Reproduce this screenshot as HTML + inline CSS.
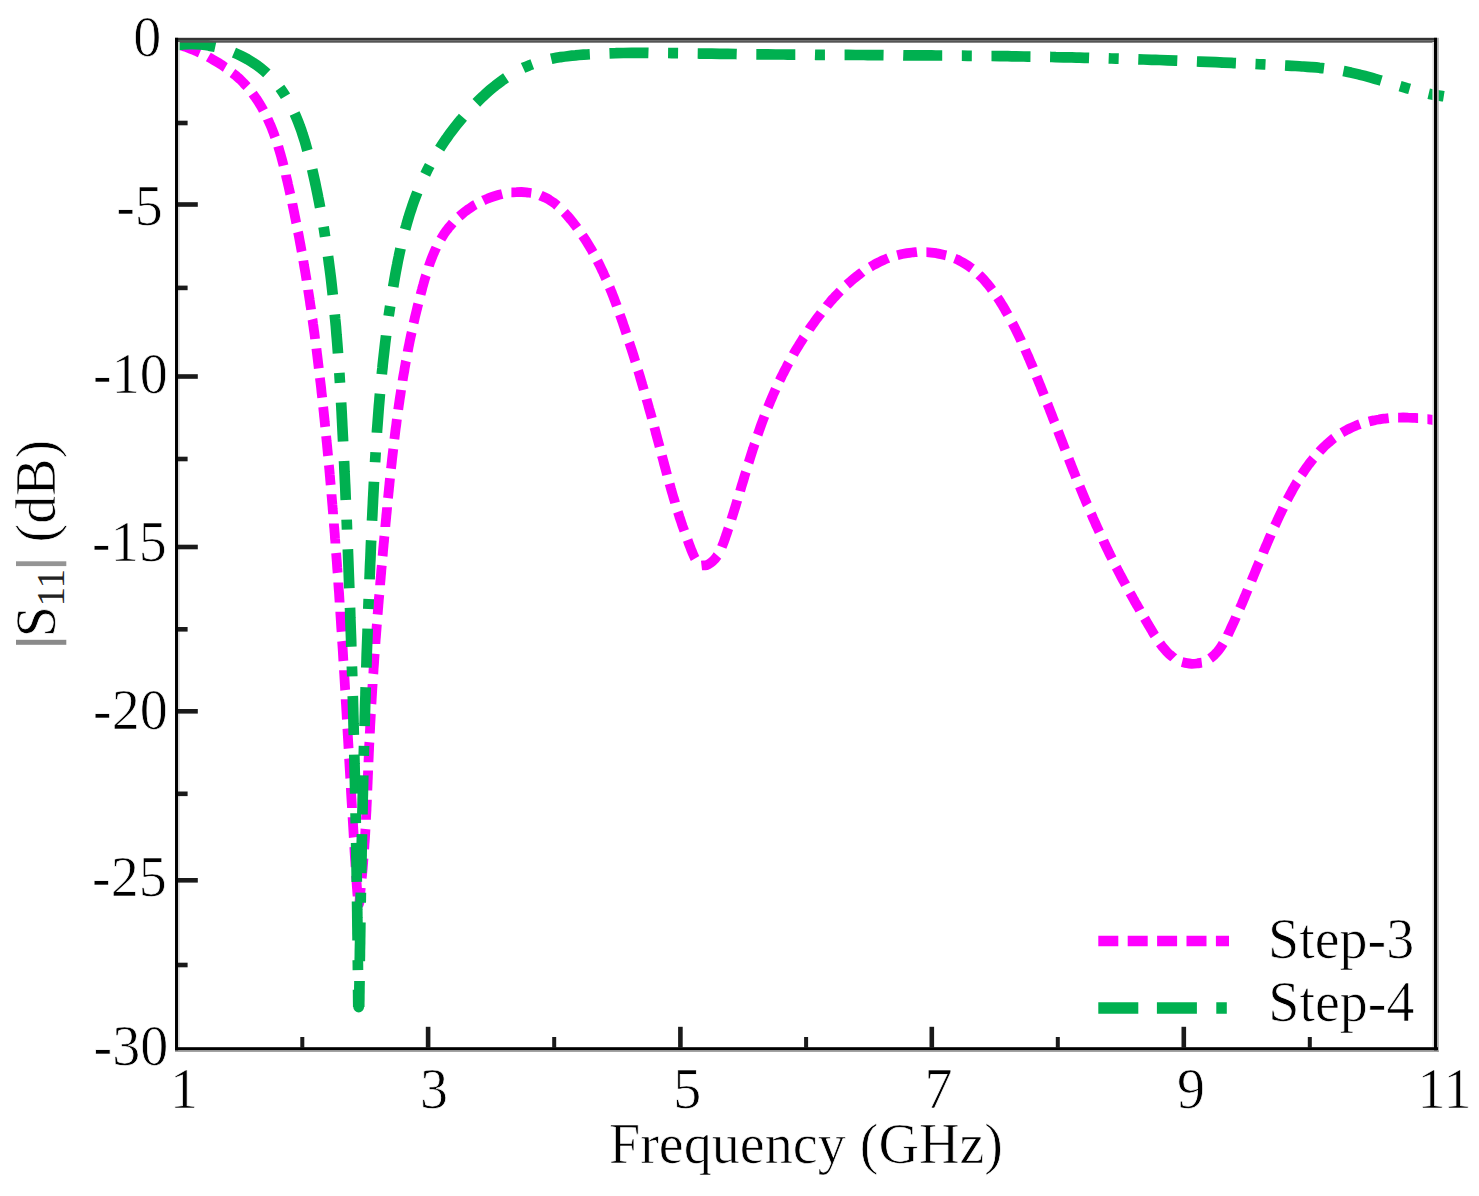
<!DOCTYPE html>
<html><head><meta charset="utf-8"><title>S11</title>
<style>html,body{margin:0;padding:0;background:#fff}svg{display:block}</style></head>
<body>
<svg width="1479" height="1196" viewBox="0 0 1479 1196">
<rect width="1479" height="1196" fill="#fff"/>
<path d="M181.3,45.3C182.1,45.6 184.5,46.4 186.0,47.0C187.6,47.6 189.1,48.2 190.7,48.8C192.2,49.5 193.8,50.1 195.3,50.8C196.8,51.4 199.1,52.5 199.8,52.8 M208.3,57.0C209.0,57.4 211.2,58.6 212.6,59.4C214.1,60.3 215.5,61.1 217.0,62.0C218.4,62.8 219.8,63.7 221.2,64.6C222.6,65.6 224.6,67.0 225.3,67.4 M232.5,72.9C233.2,73.4 235.1,75.0 236.4,76.1C237.6,77.2 238.9,78.3 240.1,79.4C241.3,80.6 242.5,81.8 243.6,83.0C244.8,84.2 246.4,86.0 247.0,86.6 M252.7,93.6C253.2,94.3 254.7,96.3 255.6,97.7C256.6,99.0 257.5,100.4 258.4,101.8C259.3,103.2 260.1,104.7 261.0,106.1C261.8,107.5 263.0,109.7 263.4,110.5 M267.6,118.7C267.9,119.5 269.0,121.7 269.6,123.3C270.3,124.8 271.0,126.3 271.6,127.9C272.2,129.4 272.8,131.0 273.4,132.5C274.0,134.1 274.8,136.4 275.1,137.2 M278.2,146.3C278.4,147.1 279.1,149.5 279.6,151.1C280.1,152.7 280.5,154.3 281.0,155.9C281.4,157.5 281.9,159.1 282.3,160.7C282.7,162.3 283.4,164.8 283.6,165.6 M285.9,174.8C286.0,175.6 286.6,178.1 287.0,179.7C287.4,181.3 287.8,183.0 288.1,184.6C288.5,186.2 288.9,187.8 289.2,189.5C289.6,191.1 290.1,193.5 290.3,194.3 M292.3,203.4C292.4,204.2 293.0,206.7 293.3,208.3C293.6,209.9 294.0,211.6 294.3,213.2C294.6,214.8 295.0,216.5 295.3,218.1C295.6,219.7 296.1,222.2 296.3,223.0 M298.0,232.0C298.2,232.8 298.7,235.2 299.0,236.9C299.3,238.5 299.6,240.2 299.9,241.8C300.2,243.4 300.5,245.1 300.8,246.7C301.1,248.4 301.5,250.8 301.7,251.6 M303.3,260.7C303.4,261.5 303.9,264.0 304.1,265.7C304.4,267.3 304.7,268.9 305.0,270.6C305.3,272.2 305.5,273.9 305.8,275.5C306.1,277.2 306.5,279.6 306.6,280.4 M308.1,289.8C308.2,290.7 308.6,293.1 308.9,294.8C309.1,296.4 309.4,298.1 309.6,299.7C309.9,301.4 310.1,303.0 310.3,304.7C310.6,306.3 311.0,308.8 311.1,309.6 M312.4,319.2C312.6,320.0 312.9,322.5 313.1,324.1C313.4,325.8 313.6,327.4 313.8,329.1C314.0,330.7 314.3,332.4 314.5,334.0C314.7,335.7 315.0,338.1 315.1,339.0 M316.4,348.5C316.5,349.3 316.8,351.8 317.0,353.5C317.2,355.1 317.4,356.8 317.6,358.4C317.8,360.1 318.0,361.7 318.2,363.4C318.4,365.0 318.7,367.5 318.8,368.3 M319.9,377.8C320.0,378.6 320.3,381.1 320.5,382.7C320.7,384.4 320.9,386.1 321.1,387.7C321.3,389.4 321.4,391.0 321.6,392.7C321.8,394.3 322.1,396.8 322.2,397.6 M323.2,406.9C323.3,407.7 323.5,410.2 323.7,411.9C323.9,413.5 324.0,415.2 324.2,416.9C324.4,418.5 324.6,420.2 324.7,421.8C324.9,423.5 325.1,426.0 325.2,426.8 M326.1,436.0C326.2,436.8 326.5,439.3 326.6,441.0C326.8,442.6 327.0,444.3 327.1,445.9C327.3,447.6 327.4,449.3 327.6,450.9C327.7,452.6 328.0,455.1 328.1,455.9 M328.9,465.1C329.0,465.9 329.2,468.4 329.4,470.1C329.5,471.7 329.7,473.4 329.8,475.1C330.0,476.7 330.1,478.4 330.2,480.0C330.4,481.7 330.6,484.2 330.7,485.0 M331.5,494.2C331.5,495.1 331.8,497.6 331.9,499.2C332.0,500.9 332.2,502.5 332.3,504.2C332.5,505.9 332.6,507.5 332.7,509.2C332.9,510.9 333.1,513.3 333.1,514.2 M333.9,523.5C333.9,524.3 334.1,526.8 334.3,528.5C334.4,530.2 334.5,531.8 334.7,533.5C334.8,535.1 334.9,536.8 335.0,538.5C335.2,540.1 335.4,542.6 335.4,543.4 M336.1,553.0C336.2,553.8 336.4,556.3 336.5,558.0C336.6,559.6 336.8,561.3 336.9,562.9C337.0,564.6 337.1,566.3 337.2,567.9C337.4,569.6 337.5,572.1 337.6,572.9 M338.3,582.5C338.3,583.3 338.5,585.8 338.6,587.5C338.7,589.1 338.8,590.8 339.0,592.4C339.1,594.1 339.2,595.8 339.3,597.4C339.4,599.1 339.6,601.6 339.6,602.4 M340.3,611.8C340.3,612.6 340.5,615.1 340.6,616.8C340.7,618.5 340.8,620.1 340.9,621.8C341.0,623.4 341.1,625.1 341.2,626.8C341.3,628.4 341.5,630.9 341.6,631.8 M342.1,641.1C342.2,641.9 342.4,644.4 342.5,646.1C342.6,647.7 342.7,649.4 342.8,651.0C342.9,652.7 343.0,654.4 343.1,656.0C343.2,657.7 343.3,660.2 343.4,661.0 M344.0,670.3C344.0,671.1 344.2,673.6 344.3,675.2C344.4,676.9 344.5,678.6 344.6,680.2C344.7,681.9 344.8,683.6 344.9,685.2C345.0,686.9 345.1,689.4 345.2,690.2 M345.7,699.3C345.7,700.1 345.9,702.6 346.0,704.3C346.1,705.9 346.2,707.6 346.3,709.3C346.4,710.9 346.5,712.6 346.6,714.3C346.7,715.9 346.8,718.4 346.9,719.3 M347.4,728.5C347.5,729.3 347.6,731.8 347.7,733.5C347.8,735.2 347.9,736.8 348.0,738.5C348.1,740.2 348.2,741.8 348.3,743.5C348.4,745.1 348.5,747.6 348.6,748.5 M349.1,758.3C349.2,759.1 349.3,761.6 349.4,763.3C349.5,764.9 349.6,766.6 349.7,768.3C349.8,769.9 349.9,771.6 350.0,773.2C350.1,774.9 350.2,777.4 350.3,778.2 M350.9,788.0C350.9,788.9 351.0,791.4 351.1,793.0C351.2,794.7 351.3,796.4 351.4,798.0C351.5,799.7 351.6,801.4 351.7,803.0C351.8,804.7 352.0,807.2 352.0,808.0 M352.6,817.3C352.6,818.2 352.8,820.7 352.9,822.3C353.0,824.0 353.1,825.7 353.2,827.3C353.3,829.0 353.4,830.7 353.5,832.3C353.6,834.0 353.7,836.5 353.8,837.3 M354.3,846.7C354.4,847.5 354.5,850.0 354.6,851.6C354.7,853.3 354.8,855.0 354.9,856.6C355.0,858.3 355.1,860.0 355.3,861.6C355.4,863.3 355.5,865.8 355.6,866.6 M356.2,876.0C356.2,876.8 356.4,879.3 356.5,881.0C356.6,882.6 356.7,884.3 356.8,885.9C356.9,887.6 357.1,889.3 357.2,890.9C357.3,892.6 357.5,895.1 357.6,895.9 M358.4,905.2C358.6,904.8 359.1,903.8 359.4,902.5C359.6,901.2 359.7,899.2 359.8,897.5C360.0,895.9 360.2,894.2 360.3,892.5C360.5,890.9 360.7,888.4 360.8,887.6 M361.7,878.2C361.8,877.4 362.1,874.9 362.2,873.3C362.4,871.6 362.5,869.9 362.7,868.3C362.8,866.6 363.0,865.0 363.1,863.3C363.2,861.6 363.4,859.2 363.5,858.3 M364.2,849.0C364.3,848.2 364.4,845.7 364.5,844.0C364.7,842.3 364.8,840.7 364.9,839.0C365.0,837.3 365.1,835.7 365.2,834.0C365.3,832.4 365.4,829.9 365.5,829.0 M366.0,819.7C366.0,818.8 366.1,816.3 366.2,814.7C366.3,813.0 366.4,811.3 366.5,809.7C366.5,808.0 366.6,806.3 366.7,804.7C366.8,803.0 366.9,800.5 366.9,799.7 M367.3,790.6C367.3,789.8 367.5,787.3 367.5,785.6C367.6,784.0 367.7,782.3 367.7,780.6C367.8,779.0 367.9,777.3 367.9,775.6C368.0,774.0 368.1,771.5 368.1,770.6 M368.5,762.2C368.5,761.4 368.6,758.9 368.7,757.2C368.8,755.6 368.8,753.9 368.9,752.2C369.0,750.6 369.1,748.9 369.1,747.2C369.2,745.6 369.3,743.1 369.4,742.2 M369.8,733.6C369.8,732.8 370.0,730.3 370.1,728.6C370.1,726.9 370.2,725.3 370.3,723.6C370.4,721.9 370.5,720.3 370.6,718.6C370.7,716.9 370.8,714.5 370.9,713.6 M371.4,703.9C371.5,703.0 371.6,700.5 371.7,698.9C371.8,697.2 371.9,695.6 372.0,693.9C372.1,692.2 372.2,690.6 372.3,688.9C372.4,687.2 372.6,684.7 372.6,683.9 M373.3,673.8C373.4,673.0 373.5,670.5 373.6,668.8C373.7,667.1 373.9,665.5 374.0,663.8C374.1,662.1 374.2,660.5 374.3,658.8C374.4,657.2 374.6,654.7 374.7,653.8 M375.4,644.0C375.4,643.2 375.6,640.7 375.7,639.0C375.9,637.4 376.0,635.7 376.1,634.1C376.2,632.4 376.4,630.7 376.5,629.1C376.6,627.4 376.8,624.9 376.9,624.1 M377.6,614.5C377.7,613.7 377.9,611.2 378.0,609.6C378.2,607.9 378.3,606.2 378.4,604.6C378.6,602.9 378.7,601.2 378.8,599.6C379.0,597.9 379.2,595.4 379.3,594.6 M380.1,585.2C380.1,584.4 380.3,581.9 380.5,580.2C380.6,578.6 380.8,576.9 380.9,575.3C381.1,573.6 381.2,571.9 381.3,570.3C381.5,568.6 381.7,566.1 381.8,565.3 M382.6,556.1C382.7,555.3 382.9,552.8 383.0,551.1C383.2,549.5 383.3,547.8 383.5,546.1C383.6,544.5 383.8,542.8 384.0,541.2C384.1,539.5 384.3,537.0 384.4,536.2 M385.3,527.1C385.3,526.3 385.6,523.8 385.7,522.2C385.9,520.5 386.0,518.9 386.2,517.2C386.3,515.5 386.5,513.9 386.7,512.2C386.8,510.6 387.1,508.1 387.1,507.2 M388.0,498.1C388.1,497.3 388.4,494.8 388.5,493.2C388.7,491.5 388.9,489.8 389.0,488.2C389.2,486.5 389.4,484.9 389.5,483.2C389.7,481.6 389.9,479.1 390.0,478.2 M391.0,468.7C391.1,467.9 391.4,465.4 391.6,463.7C391.8,462.1 391.9,460.4 392.1,458.8C392.3,457.1 392.5,455.5 392.7,453.8C392.9,452.2 393.2,449.7 393.3,448.8 M394.4,439.1C394.5,438.3 394.8,435.8 395.0,434.1C395.2,432.5 395.4,430.8 395.6,429.2C395.8,427.5 396.1,425.9 396.3,424.2C396.5,422.5 396.8,420.1 396.9,419.2 M398.2,409.7C398.3,408.9 398.7,406.4 398.9,404.7C399.2,403.1 399.4,401.4 399.6,399.8C399.9,398.2 400.1,396.5 400.4,394.9C400.6,393.2 401.0,390.7 401.1,389.9 M402.6,380.7C402.7,379.8 403.1,377.4 403.4,375.7C403.7,374.1 404.0,372.5 404.3,370.8C404.5,369.2 404.8,367.5 405.1,365.9C405.4,364.2 405.8,361.8 406.0,361.0 M407.7,351.8C407.8,351.0 408.3,348.6 408.6,346.9C409.0,345.3 409.3,343.7 409.6,342.0C409.9,340.4 410.3,338.8 410.6,337.1C411.0,335.5 411.5,333.0 411.7,332.2 M413.6,323.1C413.8,322.3 414.4,319.9 414.7,318.3C415.1,316.6 415.5,315.0 415.9,313.4C416.3,311.8 416.7,310.1 417.1,308.5C417.4,306.9 418.1,304.5 418.3,303.7 M420.6,294.6C420.8,293.8 421.4,291.3 421.9,289.7C422.3,288.1 422.7,286.5 423.2,284.9C423.6,283.3 424.1,281.7 424.5,280.1C425.0,278.5 425.7,276.1 426.0,275.3 M428.9,266.1C429.1,265.3 430.0,263.0 430.5,261.4C431.1,259.8 431.7,258.3 432.3,256.7C432.9,255.2 433.6,253.6 434.2,252.1C434.9,250.6 436.0,248.3 436.3,247.6 M440.9,239.1C441.3,238.4 442.6,236.2 443.5,234.8C444.4,233.4 445.4,232.1 446.4,230.7C447.3,229.4 448.4,228.1 449.4,226.8C450.5,225.5 452.2,223.6 452.7,223.0 M459.3,216.5C459.9,216.0 461.8,214.3 463.1,213.2C464.3,212.2 465.7,211.2 467.0,210.2C468.4,209.2 469.7,208.2 471.1,207.3C472.5,206.4 474.6,205.1 475.4,204.7 M483.3,200.5C484.1,200.1 486.4,199.1 487.9,198.5C489.4,197.8 491.0,197.2 492.6,196.7C494.2,196.2 495.8,195.7 497.4,195.2C499.0,194.7 501.4,194.2 502.2,194.0 M511.4,192.4C512.2,192.4 514.7,192.1 516.4,192.1C518.0,192.0 519.7,192.0 521.4,192.0C523.0,192.1 524.7,192.2 526.4,192.3C528.0,192.5 530.5,192.9 531.3,193.0 M540.5,195.5C541.3,195.9 543.6,196.8 545.1,197.5C546.6,198.2 548.1,199.0 549.5,199.9C550.9,200.7 552.3,201.7 553.6,202.7C555.0,203.6 556.9,205.3 557.5,205.8 M564.3,212.4C564.9,213.0 566.6,214.8 567.7,216.1C568.8,217.3 569.9,218.6 570.9,219.9C572.0,221.2 573.0,222.5 574.0,223.8C575.1,225.1 576.6,227.1 577.1,227.8 M582.5,235.5C583.0,236.2 584.4,238.3 585.3,239.7C586.2,241.1 587.1,242.5 587.9,243.9C588.8,245.3 589.7,246.7 590.5,248.2C591.4,249.6 592.6,251.8 593.0,252.5 M597.4,260.7C597.8,261.5 598.9,263.7 599.7,265.2C600.4,266.7 601.1,268.2 601.8,269.7C602.5,271.2 603.3,272.7 603.9,274.2C604.6,275.7 605.6,278.0 606.0,278.8 M609.6,287.3C609.9,288.0 610.8,290.3 611.5,291.9C612.1,293.4 612.7,295.0 613.3,296.5C613.9,298.1 614.5,299.7 615.1,301.2C615.6,302.8 616.5,305.1 616.8,305.9 M619.9,314.6C620.2,315.4 621.0,317.8 621.6,319.4C622.1,320.9 622.7,322.5 623.2,324.1C623.7,325.7 624.3,327.2 624.8,328.8C625.3,330.4 626.1,332.8 626.4,333.6 M629.3,342.5C629.6,343.3 630.3,345.7 630.8,347.2C631.4,348.8 631.9,350.4 632.4,352.0C632.9,353.6 633.4,355.2 633.9,356.8C634.4,358.4 635.1,360.8 635.4,361.6 M638.1,370.6C638.4,371.4 639.1,373.8 639.6,375.4C640.1,377.0 640.5,378.6 641.0,380.2C641.5,381.8 642.0,383.4 642.4,385.0C642.9,386.6 643.6,389.0 643.8,389.8 M646.5,399.1C646.7,399.9 647.4,402.3 647.9,403.9C648.3,405.5 648.8,407.1 649.2,408.7C649.7,410.3 650.1,411.9 650.6,413.5C651.0,415.1 651.7,417.5 651.9,418.3 M654.4,427.4C654.6,428.2 655.3,430.6 655.7,432.2C656.1,433.9 656.6,435.5 657.0,437.1C657.4,438.7 657.9,440.3 658.3,441.9C658.7,443.5 659.4,445.9 659.6,446.7 M661.9,455.6C662.1,456.4 662.8,458.8 663.2,460.4C663.6,462.0 664.1,463.7 664.5,465.3C664.9,466.9 665.4,468.5 665.8,470.1C666.2,471.7 666.9,474.1 667.1,474.9 M669.6,483.7C669.8,484.5 670.5,486.9 670.9,488.5C671.4,490.1 671.8,491.8 672.3,493.4C672.8,495.0 673.2,496.6 673.7,498.1C674.2,499.7 674.9,502.1 675.1,502.9 M677.9,511.9C678.2,512.7 678.9,515.1 679.4,516.7C680.0,518.3 680.5,519.8 681.0,521.4C681.5,523.0 682.1,524.6 682.6,526.2C683.2,527.7 684.0,530.1 684.3,530.9 M687.6,540.0C687.9,540.8 688.7,543.1 689.3,544.7C689.9,546.3 690.5,547.8 691.1,549.4C691.7,550.9 692.3,552.5 693.0,554.0C693.7,555.5 694.7,557.8 695.1,558.5 M701.5,565.5C702.4,565.4 704.9,565.6 706.4,565.2C708.0,564.7 709.5,563.7 710.8,562.8C712.2,561.8 713.4,560.7 714.5,559.4C715.6,558.2 717.0,556.1 717.5,555.5 M721.8,547.1C722.1,546.3 723.0,544.0 723.6,542.5C724.2,540.9 724.7,539.3 725.3,537.7C725.8,536.2 726.3,534.6 726.9,533.0C727.4,531.4 728.2,529.1 728.5,528.3 M731.4,519.3C731.6,518.5 732.4,516.2 732.9,514.6C733.4,513.0 733.9,511.4 734.4,509.8C734.9,508.2 735.4,506.6 735.9,505.0C736.3,503.4 737.1,501.0 737.3,500.2 M740.1,491.1C740.3,490.3 741.1,487.9 741.5,486.3C742.0,484.7 742.5,483.1 743.0,481.5C743.5,479.9 743.9,478.3 744.4,476.7C744.9,475.1 745.6,472.7 745.9,471.9 M748.6,462.8C748.9,462.0 749.6,459.6 750.1,458.0C750.6,456.5 751.1,454.9 751.6,453.3C752.1,451.7 752.6,450.1 753.1,448.5C753.7,446.9 754.4,444.6 754.7,443.8 M757.7,434.8C758.0,434.0 758.8,431.7 759.3,430.1C759.9,428.5 760.4,426.9 761.0,425.4C761.6,423.8 762.1,422.2 762.7,420.7C763.3,419.1 764.2,416.8 764.5,416.0 M767.9,407.3C768.2,406.6 769.1,404.3 769.8,402.7C770.4,401.2 771.1,399.6 771.7,398.1C772.4,396.6 773.0,395.0 773.7,393.5C774.4,392.0 775.4,389.7 775.7,389.0 M779.6,380.6C780.0,379.8 781.1,377.6 781.8,376.1C782.6,374.6 783.3,373.1 784.1,371.6C784.8,370.1 785.6,368.7 786.4,367.2C787.1,365.7 788.3,363.5 788.7,362.8 M793.4,354.5C793.8,353.7 795.0,351.6 795.9,350.1C796.7,348.7 797.6,347.3 798.5,345.9C799.3,344.4 800.2,343.0 801.1,341.6C802.0,340.2 803.3,338.1 803.8,337.4 M809.2,329.4C809.6,328.7 811.1,326.6 812.0,325.3C813.0,323.9 814.0,322.5 814.9,321.2C815.9,319.9 816.9,318.5 817.9,317.2C818.9,315.9 820.5,313.9 821.0,313.2 M826.8,306.0C827.3,305.3 828.9,303.4 830.0,302.2C831.1,300.9 832.2,299.6 833.3,298.4C834.5,297.2 835.6,295.9 836.7,294.7C837.9,293.5 839.6,291.7 840.2,291.1 M846.8,284.7C847.4,284.2 849.3,282.5 850.6,281.4C851.8,280.3 853.1,279.2 854.4,278.2C855.7,277.1 857.0,276.1 858.3,275.1C859.6,274.1 861.7,272.6 862.3,272.1 M870.3,266.9C871.0,266.5 873.2,265.2 874.6,264.4C876.1,263.6 877.6,262.9 879.1,262.1C880.6,261.4 882.1,260.7 883.6,260.0C885.1,259.3 887.5,258.4 888.2,258.1 M897.3,255.2C898.1,255.0 900.5,254.4 902.2,254.0C903.8,253.7 905.4,253.4 907.1,253.1C908.7,252.9 910.4,252.7 912.0,252.5C913.7,252.3 916.2,252.2 917.0,252.1 M926.4,252.2C927.2,252.2 929.7,252.4 931.3,252.6C933.0,252.8 934.7,253.0 936.3,253.2C937.9,253.5 939.6,253.8 941.2,254.2C942.8,254.6 945.2,255.2 946.1,255.4 M954.8,258.5C955.6,258.8 957.9,259.8 959.3,260.6C960.8,261.3 962.3,262.1 963.7,262.9C965.2,263.8 966.6,264.7 968.0,265.6C969.3,266.6 971.3,268.1 972.0,268.6 M978.9,274.7C979.5,275.3 981.3,277.0 982.5,278.2C983.6,279.5 984.7,280.7 985.8,282.0C986.9,283.2 987.9,284.5 989.0,285.8C990.0,287.1 991.5,289.1 992.0,289.8 M997.4,297.5C997.9,298.2 999.3,300.3 1000.2,301.7C1001.0,303.1 1001.9,304.5 1002.8,305.9C1003.6,307.4 1004.5,308.8 1005.3,310.2C1006.2,311.7 1007.4,313.9 1007.8,314.6 M1012.4,323.1C1012.8,323.8 1013.9,326.0 1014.7,327.5C1015.5,329.0 1016.2,330.5 1016.9,332.0C1017.7,333.5 1018.4,335.0 1019.1,336.5C1019.8,338.0 1020.9,340.2 1021.2,341.0 M1025.2,349.6C1025.5,350.4 1026.5,352.7 1027.2,354.2C1027.9,355.7 1028.5,357.3 1029.2,358.8C1029.8,360.3 1030.5,361.9 1031.1,363.4C1031.8,364.9 1032.8,367.2 1033.1,368.0 M1036.6,376.5C1036.9,377.3 1037.9,379.6 1038.5,381.2C1039.1,382.7 1039.7,384.3 1040.4,385.8C1041.0,387.4 1041.6,388.9 1042.2,390.5C1042.8,392.0 1043.7,394.3 1044.0,395.1 M1047.4,403.7C1047.7,404.4 1048.6,406.8 1049.2,408.3C1049.8,409.9 1050.4,411.4 1051.0,413.0C1051.6,414.6 1052.2,416.1 1052.8,417.7C1053.4,419.2 1054.3,421.6 1054.6,422.3 M1058.0,431.1C1058.3,431.9 1059.2,434.2 1059.8,435.8C1060.4,437.3 1061.0,438.9 1061.6,440.4C1062.2,442.0 1062.8,443.6 1063.4,445.1C1064.0,446.7 1064.9,449.0 1065.2,449.8 M1068.7,458.8C1069.0,459.6 1069.9,461.9 1070.5,463.4C1071.1,465.0 1071.7,466.5 1072.3,468.1C1072.9,469.6 1073.5,471.2 1074.2,472.7C1074.8,474.3 1075.7,476.6 1076.0,477.4 M1079.7,486.4C1080.0,487.1 1080.9,489.5 1081.6,491.0C1082.2,492.5 1082.8,494.1 1083.5,495.6C1084.1,497.1 1084.8,498.7 1085.4,500.2C1086.1,501.8 1087.0,504.1 1087.4,504.8 M1091.1,513.6C1091.5,514.4 1092.5,516.6 1093.1,518.2C1093.8,519.7 1094.5,521.2 1095.2,522.7C1095.8,524.3 1096.5,525.8 1097.2,527.3C1097.9,528.8 1098.9,531.1 1099.3,531.9 M1103.3,540.5C1103.6,541.3 1104.7,543.6 1105.4,545.1C1106.1,546.6 1106.8,548.1 1107.6,549.6C1108.3,551.1 1109.0,552.6 1109.7,554.1C1110.5,555.6 1111.6,557.8 1112.0,558.6 M1116.2,567.1C1116.6,567.8 1117.8,570.0 1118.5,571.5C1119.3,573.0 1120.1,574.5 1120.8,575.9C1121.6,577.4 1122.4,578.9 1123.2,580.4C1124.0,581.8 1125.2,584.0 1125.6,584.8 M1130.0,592.9C1130.4,593.6 1131.7,595.8 1132.5,597.2C1133.3,598.7 1134.1,600.1 1134.9,601.6C1135.8,603.0 1136.6,604.5 1137.4,605.9C1138.3,607.4 1139.5,609.5 1139.9,610.3 M1144.6,618.3C1145.0,619.0 1146.3,621.2 1147.1,622.6C1147.9,624.0 1148.8,625.5 1149.6,626.9C1150.5,628.3 1151.3,629.8 1152.2,631.2C1153.0,632.6 1154.3,634.8 1154.8,635.5 M1160.0,643.4C1160.5,644.1 1162.0,646.1 1163.0,647.4C1164.1,648.7 1165.2,649.9 1166.3,651.2C1167.5,652.4 1168.6,653.6 1169.9,654.7C1171.1,655.8 1173.2,657.2 1173.8,657.8 M1182.1,662.0C1182.9,662.2 1185.3,662.9 1187.0,663.2C1188.6,663.5 1190.3,663.7 1191.9,663.8C1193.6,663.8 1195.3,663.7 1196.9,663.5C1198.6,663.3 1201.0,662.7 1201.8,662.6 M1210.1,658.5C1210.8,658.0 1212.8,656.5 1214.0,655.3C1215.2,654.2 1216.3,652.9 1217.4,651.7C1218.5,650.4 1219.5,649.0 1220.4,647.7C1221.4,646.3 1222.7,644.2 1223.1,643.5 M1227.7,635.2C1228.0,634.4 1229.1,632.2 1229.8,630.7C1230.5,629.2 1231.2,627.6 1231.9,626.1C1232.6,624.6 1233.3,623.1 1234.0,621.6C1234.7,620.1 1235.7,617.8 1236.0,617.0 M1239.9,608.2C1240.2,607.5 1241.2,605.2 1241.9,603.7C1242.5,602.1 1243.2,600.6 1243.8,599.1C1244.5,597.5 1245.1,596.0 1245.8,594.4C1246.4,592.9 1247.4,590.6 1247.7,589.8 M1251.5,580.7C1251.8,579.9 1252.8,577.6 1253.4,576.1C1254.1,574.5 1254.7,573.0 1255.3,571.5C1256.0,569.9 1256.6,568.4 1257.2,566.8C1257.9,565.3 1258.8,563.0 1259.2,562.2 M1263.1,552.9C1263.4,552.1 1264.4,549.8 1265.0,548.3C1265.7,546.8 1266.3,545.2 1267.0,543.7C1267.6,542.2 1268.3,540.6 1268.9,539.1C1269.6,537.6 1270.6,535.3 1270.9,534.5 M1274.8,525.8C1275.2,525.0 1276.2,522.8 1276.9,521.3C1277.6,519.7 1278.3,518.2 1279.0,516.7C1279.7,515.2 1280.4,513.7 1281.2,512.2C1281.9,510.7 1283.0,508.4 1283.3,507.7 M1287.3,499.7C1287.7,499.0 1288.8,496.8 1289.6,495.3C1290.4,493.8 1291.2,492.4 1292.0,490.9C1292.8,489.4 1293.6,488.0 1294.4,486.5C1295.3,485.1 1296.5,482.9 1297.0,482.2 M1301.6,474.7C1302.1,474.0 1303.5,471.9 1304.4,470.5C1305.3,469.2 1306.3,467.8 1307.3,466.4C1308.3,465.1 1309.2,463.8 1310.3,462.4C1311.3,461.1 1312.8,459.2 1313.4,458.5 M1319.4,451.6C1319.9,451.0 1321.6,449.2 1322.8,448.0C1324.0,446.8 1325.2,445.6 1326.4,444.5C1327.7,443.4 1328.9,442.3 1330.2,441.2C1331.5,440.1 1333.4,438.6 1334.1,438.1 M1341.9,432.7C1342.6,432.3 1344.7,431.0 1346.2,430.2C1347.7,429.4 1349.2,428.7 1350.7,428.0C1352.2,427.2 1353.7,426.6 1355.2,426.0C1356.8,425.3 1359.1,424.5 1359.9,424.2 M1369.0,421.5C1369.8,421.3 1372.3,420.7 1373.9,420.4C1375.5,420.0 1377.2,419.7 1378.8,419.5C1380.5,419.2 1382.1,418.9 1383.8,418.7C1385.4,418.5 1387.9,418.3 1388.7,418.2 M1398.1,417.6C1399.0,417.6 1401.5,417.5 1403.1,417.5C1404.8,417.5 1406.5,417.5 1408.1,417.6C1409.8,417.6 1411.4,417.7 1413.1,417.8C1414.8,417.9 1417.3,418.1 1418.1,418.1 M1427.4,419.2C1427.8,419.2 1428.7,419.3 1429.3,419.4C1429.9,419.5 1430.6,419.6 1431.2,419.7C1431.8,419.8 1432.4,419.9 1433.1,420.0C1433.7,420.1 1434.6,420.3 1434.9,420.3" fill="none" stroke="#ff00ff" stroke-width="9.8" stroke-linejoin="round"/>
<path d="M175.3,45.1C176.7,45.0 180.9,44.4 183.8,44.3C186.6,44.1 189.4,44.0 192.2,44.1C195.0,44.1 197.8,44.3 200.6,44.5C203.4,44.8 206.2,45.1 208.9,45.6C211.7,46.0 214.4,46.6 217.1,47.2C219.8,47.9 222.4,48.6 225.1,49.5C227.7,50.3 230.3,51.2 232.8,52.2C235.3,53.2 237.8,54.3 240.3,55.5C242.7,56.6 245.1,57.9 247.5,59.2C249.8,60.6 252.1,62.0 254.3,63.5C256.5,64.9 258.7,66.5 260.7,68.1C262.8,69.8 264.8,71.5 266.7,73.2C268.6,75.0 270.5,76.8 272.3,78.7C274.0,80.6 275.7,82.6 277.3,84.6C279.0,86.6 280.5,88.7 282.0,90.8C283.5,93.0 284.9,95.1 286.2,97.4C287.6,99.6 288.8,101.9 290.1,104.2C291.3,106.5 292.5,108.9 293.6,111.3C294.7,113.7 295.8,116.1 296.8,118.6C297.8,121.0 298.8,123.5 299.7,126.1C300.7,128.6 301.6,131.1 302.4,133.7C303.3,136.3 304.1,138.9 304.9,141.5C305.7,144.1 306.4,146.8 307.1,149.4C307.9,152.1 308.6,154.7 309.2,157.4C309.9,160.1 310.6,162.8 311.2,165.4C311.9,168.1 312.5,170.8 313.1,173.5C313.7,176.2 314.3,178.9 314.9,181.5C315.5,184.2 316.0,186.9 316.6,189.6C317.2,192.3 317.7,195.0 318.2,197.6C318.8,200.3 319.3,203.0 319.8,205.7C320.3,208.4 320.8,211.1 321.3,213.8C321.8,216.4 322.2,219.1 322.7,221.8C323.2,224.5 323.6,227.2 324.1,229.9C324.5,232.5 324.9,235.2 325.3,237.9C325.8,240.6 326.2,243.3 326.6,246.0C327.0,248.6 327.4,251.3 327.7,254.0C328.1,256.7 328.5,259.4 328.8,262.1C329.2,264.8 329.5,267.4 329.9,270.1C330.2,272.8 330.6,275.5 330.9,278.2C331.2,280.9 331.5,283.6 331.8,286.2C332.1,288.9 332.4,291.6 332.7,294.3C333.0,297.0 333.3,299.7 333.6,302.4C333.9,305.0 334.1,307.7 334.4,310.4C334.6,313.1 334.9,315.8 335.1,318.5C335.4,321.2 335.6,323.9 335.9,326.5C336.1,329.2 336.3,331.9 336.5,334.6C336.8,337.3 337.0,340.0 337.2,342.7C337.4,345.4 337.6,348.0 337.8,350.7C338.0,353.4 338.2,356.1 338.4,358.8C338.6,361.5 338.8,364.2 338.9,366.9C339.1,369.6 339.3,372.2 339.5,374.9C339.6,377.6 339.8,380.3 340.0,383.0C340.1,385.7 340.3,388.4 340.5,391.1C340.6,393.8 340.8,396.5 340.9,399.1C341.1,401.8 341.2,404.5 341.4,407.2C341.5,409.9 341.7,412.6 341.8,415.3C341.9,418.0 342.1,420.7 342.2,423.4C342.3,426.1 342.5,428.8 342.6,431.5C342.7,434.2 342.9,436.8 343.0,439.5C343.1,442.2 343.3,444.9 343.4,447.6C343.5,450.3 343.7,453.0 343.8,455.7C343.9,458.4 344.0,461.1 344.2,463.8C344.3,466.5 344.4,469.2 344.5,471.9C344.7,474.6 344.8,477.3 344.9,480.0C345.0,482.7 345.2,485.4 345.3,488.1C345.4,490.8 345.5,493.5 345.6,496.2C345.7,498.9 345.9,501.6 346.0,504.3C346.1,507.0 346.2,509.7 346.3,512.4C346.4,515.1 346.6,517.8 346.7,520.5C346.8,523.2 346.9,525.9 347.0,528.6C347.1,531.3 347.2,534.0 347.3,536.7C347.4,539.4 347.6,542.1 347.7,544.8C347.8,547.5 347.9,550.2 348.0,552.9C348.1,555.6 348.2,558.3 348.3,561.0C348.4,563.7 348.5,566.4 348.6,569.1C348.7,571.8 348.8,574.5 348.9,577.2C349.0,579.9 349.1,582.6 349.2,585.3C349.3,588.0 349.4,590.7 349.5,593.4C349.6,596.1 349.7,598.8 349.8,601.5C349.9,604.2 350.0,606.9 350.1,609.6C350.2,612.3 350.3,615.0 350.3,617.7C350.4,620.4 350.5,623.1 350.6,625.8C350.7,628.5 350.8,631.2 350.9,633.9C351.0,636.6 351.1,639.4 351.2,642.1C351.2,644.8 351.3,647.5 351.4,650.2C351.5,652.9 351.6,655.6 351.7,658.3C351.8,661.0 351.8,663.7 351.9,666.4C352.0,669.1 352.1,671.8 352.2,674.5C352.2,677.2 352.3,679.9 352.4,682.6C352.5,685.3 352.6,688.0 352.6,690.7C352.7,693.5 352.8,696.2 352.9,698.9C352.9,701.6 353.0,704.3 353.1,707.0C353.2,709.7 353.2,712.4 353.3,715.1C353.4,717.8 353.5,720.5 353.5,723.2C353.6,725.9 353.7,728.6 353.7,731.3C353.8,734.0 353.9,736.7 353.9,739.4C354.0,742.1 354.1,744.9 354.1,747.6C354.2,750.3 354.3,753.0 354.3,755.7C354.4,758.4 354.5,761.1 354.5,763.8C354.6,766.5 354.7,769.2 354.7,771.9C354.8,774.6 354.8,777.3 354.9,780.0C355.0,782.7 355.0,785.4 355.1,788.1C355.1,790.8 355.2,793.5 355.3,796.2C355.3,799.0 355.4,801.7 355.4,804.4C355.5,807.1 355.5,809.8 355.6,812.5C355.6,815.2 355.7,817.9 355.7,820.6C355.8,823.3 355.8,826.0 355.9,828.7C356.0,831.4 356.0,834.1 356.1,836.8C356.1,839.5 356.2,842.2 356.2,844.9C356.2,847.6 356.3,850.3 356.3,853.0C356.4,855.7 356.4,858.4 356.5,861.1C356.5,863.8 356.6,866.5 356.6,869.3C356.7,872.0 356.7,874.7 356.7,877.4C356.8,880.1 356.8,882.8 356.9,885.5C356.9,888.2 357.0,890.9 357.0,893.6C357.0,896.3 357.1,899.0 357.1,901.7C357.1,904.4 357.2,907.1 357.2,909.8C357.3,912.5 357.3,915.2 357.3,917.9C357.4,920.6 357.4,923.3 357.4,926.0C357.5,928.7 357.5,931.4 357.5,934.1C357.6,936.8 357.6,939.5 357.6,942.2C357.7,944.9 357.7,947.6 357.7,950.3C357.8,953.0 357.8,955.7 357.8,958.4C357.8,961.1 357.9,963.8 357.9,966.5C357.9,969.2 358.0,971.9 358.0,974.6C358.0,977.3 358.0,979.9 358.1,982.6C358.1,985.3 358.1,988.0 358.1,990.7C358.2,993.4 358.2,996.1 358.2,998.8C358.2,1001.5 358.3,1005.6 358.3,1006.9" stroke-linejoin="round" fill="none" stroke="#00b050" stroke-width="10.7" stroke-dasharray="39 19.63 39 19.63 10 19.63" stroke-dashoffset="-1.2"/>
<path d="M359.2,1007.0C359.2,1005.7 359.2,1001.7 359.3,999.0C359.3,996.3 359.3,993.7 359.4,991.0C359.4,988.3 359.4,985.7 359.5,983.0C359.5,980.3 359.5,977.7 359.6,975.0C359.6,972.3 359.7,969.7 359.7,967.0C359.7,964.3 359.8,961.7 359.8,959.0C359.9,956.3 359.9,953.7 359.9,951.0C360.0,948.3 360.0,945.7 360.1,943.0C360.1,940.3 360.1,937.7 360.2,935.0C360.2,932.3 360.3,929.7 360.3,927.0C360.3,924.3 360.4,921.7 360.4,919.0C360.5,916.3 360.5,913.7 360.6,911.0C360.6,908.3 360.6,905.7 360.7,903.0C360.7,900.3 360.8,897.7 360.8,895.0C360.9,892.3 360.9,889.7 361.0,887.0C361.0,884.3 361.1,881.7 361.1,879.0C361.2,876.3 361.2,873.7 361.3,871.0C361.3,868.3 361.4,865.7 361.4,863.0C361.5,860.3 361.5,857.7 361.6,855.0C361.6,852.3 361.7,849.7 361.7,847.0C361.8,844.3 361.8,841.7 361.9,839.0C361.9,836.3 362.0,833.7 362.0,831.0C362.1,828.3 362.2,825.7 362.2,823.0C362.3,820.3 362.3,817.7 362.4,815.0C362.4,812.3 362.5,809.7 362.6,807.0C362.6,804.3 362.7,801.7 362.7,799.0C362.8,796.3 362.9,793.7 362.9,791.0C363.0,788.3 363.0,785.7 363.1,783.0C363.2,780.3 363.2,777.7 363.3,775.0C363.4,772.3 363.4,769.7 363.5,767.0C363.6,764.3 363.6,761.7 363.7,759.0C363.8,756.3 363.8,753.7 363.9,751.0C364.0,748.3 364.0,745.7 364.1,743.0C364.2,740.3 364.3,737.7 364.3,735.0C364.4,732.3 364.5,729.7 364.5,727.0C364.6,724.3 364.7,721.7 364.8,719.0C364.8,716.4 364.9,713.7 365.0,711.0C365.1,708.4 365.1,705.7 365.2,703.0C365.3,700.4 365.4,697.7 365.5,695.0C365.5,692.4 365.6,689.7 365.7,687.0C365.8,684.4 365.9,681.7 366.0,679.0C366.0,676.4 366.1,673.7 366.2,671.0C366.3,668.4 366.4,665.7 366.5,663.0C366.6,660.4 366.6,657.7 366.7,655.0C366.8,652.4 366.9,649.7 367.0,647.0C367.1,644.4 367.2,641.7 367.3,639.1C367.4,636.4 367.5,633.7 367.6,631.1C367.7,628.4 367.7,625.7 367.8,623.1C367.9,620.4 368.0,617.7 368.1,615.1C368.2,612.4 368.3,609.7 368.4,607.1C368.5,604.4 368.6,601.7 368.7,599.1C368.8,596.4 368.9,593.7 369.1,591.1C369.2,588.4 369.3,585.7 369.4,583.1C369.5,580.4 369.6,577.8 369.7,575.1C369.8,572.4 369.9,569.8 370.0,567.1C370.1,564.4 370.2,561.8 370.4,559.1C370.5,556.4 370.6,553.8 370.7,551.1C370.8,548.4 370.9,545.8 371.0,543.1C371.2,540.4 371.3,537.8 371.4,535.1C371.5,532.5 371.6,529.8 371.8,527.1C371.9,524.5 372.0,521.8 372.1,519.1C372.3,516.5 372.4,513.8 372.5,511.1C372.6,508.5 372.8,505.8 372.9,503.1C373.0,500.5 373.1,497.8 373.3,495.1C373.4,492.5 373.6,489.8 373.7,487.2C373.8,484.5 374.0,481.8 374.1,479.2C374.3,476.5 374.4,473.8 374.5,471.2C374.7,468.5 374.8,465.8 375.0,463.2C375.2,460.5 375.3,457.9 375.5,455.2C375.6,452.5 375.8,449.9 376.0,447.2C376.1,444.5 376.3,441.9 376.5,439.2C376.7,436.6 376.9,433.9 377.0,431.2C377.2,428.6 377.4,425.9 377.6,423.3C377.8,420.6 378.0,417.9 378.2,415.3C378.4,412.6 378.6,410.0 378.8,407.3C379.0,404.7 379.3,402.0 379.5,399.3C379.7,396.7 379.9,394.0 380.2,391.4C380.4,388.7 380.7,386.1 380.9,383.4C381.2,380.8 381.4,378.1 381.7,375.4C381.9,372.8 382.2,370.1 382.5,367.5C382.7,364.8 383.0,362.2 383.3,359.5C383.6,356.9 383.9,354.2 384.2,351.6C384.5,348.9 384.8,346.3 385.1,343.6C385.4,341.0 385.8,338.3 386.1,335.7C386.4,333.0 386.8,330.4 387.1,327.8C387.5,325.1 387.8,322.5 388.2,319.8C388.5,317.2 388.9,314.5 389.3,311.9C389.7,309.2 390.1,306.6 390.5,304.0C390.9,301.3 391.3,298.7 391.7,296.1C392.1,293.4 392.5,290.8 393.0,288.1C393.4,285.5 393.9,282.9 394.3,280.2C394.8,277.6 395.2,275.0 395.7,272.3C396.2,269.7 396.7,267.1 397.2,264.5C397.7,261.8 398.2,259.2 398.8,256.6C399.3,254.0 399.9,251.4 400.5,248.8C401.0,246.2 401.6,243.6 402.3,241.0C402.9,238.4 403.5,235.8 404.2,233.2C404.9,230.7 405.5,228.1 406.3,225.5C407.0,223.0 407.7,220.4 408.5,217.9C409.2,215.4 410.0,212.8 410.9,210.3C411.7,207.8 412.5,205.3 413.4,202.8C414.3,200.3 415.2,197.8 416.2,195.3C417.1,192.9 418.1,190.4 419.1,187.9C420.1,185.5 421.2,183.1 422.3,180.7C423.4,178.2 424.5,175.8 425.7,173.5C426.8,171.1 428.0,168.7 429.3,166.3C430.5,164.0 431.8,161.7 433.1,159.3C434.4,157.0 435.8,154.7 437.2,152.4C438.6,150.2 440.0,147.9 441.5,145.7C443.0,143.4 444.5,141.2 446.0,139.0C447.6,136.8 449.1,134.6 450.7,132.5C452.4,130.3 454.0,128.2 455.7,126.0C457.4,123.9 459.1,121.8 460.8,119.8C462.5,117.7 464.3,115.7 466.1,113.7C467.9,111.7 469.7,109.7 471.6,107.7C473.5,105.7 475.4,103.8 477.3,101.9C479.2,100.0 481.1,98.1 483.1,96.3C485.1,94.4 487.1,92.6 489.1,90.8C491.1,89.1 493.2,87.3 495.3,85.7C497.4,84.0 499.5,82.4 501.7,80.8C503.8,79.2 506.0,77.7 508.2,76.3C510.5,74.9 512.7,73.5 515.0,72.2C517.3,70.9 519.6,69.7 521.9,68.5C524.3,67.4 526.7,66.3 529.1,65.4C531.5,64.4 534.0,63.5 536.5,62.7C539.0,61.9 541.5,61.2 544.0,60.5C546.6,59.9 549.1,59.3 551.7,58.7C554.3,58.2 556.9,57.7 559.5,57.3C562.2,56.9 564.8,56.5 567.5,56.2C570.1,55.9 572.8,55.6 575.4,55.4C578.1,55.1 580.8,54.9 583.5,54.7C586.1,54.5 588.8,54.3 591.5,54.2C594.2,54.0 596.9,53.9 599.5,53.7C602.2,53.6 604.9,53.5 607.6,53.4C610.3,53.3 612.9,53.2 615.6,53.2C618.3,53.1 621.0,53.0 623.6,53.0C626.3,52.9 629.0,52.9 631.6,52.9C634.3,52.9 637.0,52.8 639.7,52.8C642.3,52.8 645.0,52.8 647.7,52.8C650.3,52.9 653.0,52.9 655.7,52.9C658.3,52.9 661.0,52.9 663.7,53.0C666.3,53.0 669.0,53.0 671.7,53.1C674.3,53.1 677.0,53.2 679.7,53.2C682.3,53.2 685.0,53.3 687.7,53.3C690.3,53.4 693.0,53.4 695.7,53.5C698.3,53.5 701.0,53.6 703.7,53.6C706.3,53.6 709.0,53.7 711.7,53.7C714.3,53.8 717.0,53.8 719.7,53.8C722.3,53.9 725.0,53.9 727.7,53.9C730.3,54.0 733.0,54.0 735.7,54.0C738.3,54.1 741.0,54.1 743.7,54.1C746.3,54.2 749.0,54.2 751.7,54.2C754.3,54.3 757.0,54.3 759.7,54.3C762.3,54.3 765.0,54.4 767.7,54.4C770.3,54.4 773.0,54.4 775.7,54.5C778.3,54.5 781.0,54.5 783.7,54.5C786.3,54.5 789.0,54.6 791.7,54.6C794.3,54.6 797.0,54.6 799.7,54.6C802.3,54.7 805.0,54.7 807.7,54.7C810.3,54.7 813.0,54.7 815.7,54.8C818.3,54.8 821.0,54.8 823.7,54.8C826.3,54.8 829.0,54.8 831.7,54.8C834.3,54.9 837.0,54.9 839.7,54.9C842.3,54.9 845.0,54.9 847.7,54.9C850.3,55.0 853.0,55.0 855.7,55.0C858.3,55.0 861.0,55.0 863.7,55.0C866.3,55.0 869.0,55.1 871.7,55.1C874.3,55.1 877.0,55.1 879.7,55.1C882.3,55.1 885.0,55.2 887.7,55.2C890.3,55.2 893.0,55.2 895.7,55.2C898.3,55.2 901.0,55.2 903.7,55.3C906.3,55.3 909.0,55.3 911.7,55.3C914.3,55.3 917.0,55.3 919.7,55.4C922.3,55.4 925.0,55.4 927.7,55.4C930.3,55.4 933.0,55.5 935.7,55.5C938.3,55.5 941.0,55.5 943.7,55.5C946.3,55.6 949.0,55.6 951.7,55.6C954.3,55.6 957.0,55.7 959.7,55.7C962.3,55.7 965.0,55.7 967.7,55.8C970.3,55.8 973.0,55.8 975.7,55.9C978.3,55.9 981.0,55.9 983.7,55.9C986.3,56.0 989.0,56.0 991.7,56.0C994.3,56.1 997.0,56.1 999.7,56.1C1002.3,56.2 1005.0,56.2 1007.7,56.2C1010.3,56.3 1013.0,56.3 1015.7,56.4C1018.3,56.4 1021.0,56.4 1023.7,56.5C1026.3,56.5 1029.0,56.6 1031.7,56.6C1034.3,56.7 1037.0,56.7 1039.7,56.8C1042.3,56.8 1045.0,56.9 1047.7,56.9C1050.3,57.0 1053.0,57.0 1055.7,57.1C1058.3,57.1 1061.0,57.2 1063.7,57.3C1066.3,57.3 1069.0,57.4 1071.7,57.4C1074.3,57.5 1077.0,57.6 1079.7,57.6C1082.3,57.7 1085.0,57.8 1087.7,57.8C1090.3,57.9 1093.0,58.0 1095.7,58.0C1098.3,58.1 1101.0,58.2 1103.7,58.3C1106.3,58.3 1109.0,58.4 1111.7,58.5C1114.3,58.6 1117.0,58.6 1119.7,58.7C1122.3,58.8 1125.0,58.9 1127.7,59.0C1130.3,59.1 1133.0,59.1 1135.7,59.2C1138.3,59.3 1141.0,59.4 1143.7,59.5C1146.3,59.6 1149.0,59.7 1151.7,59.8C1154.3,59.9 1157.0,59.9 1159.7,60.0C1162.3,60.1 1165.0,60.2 1167.7,60.3C1170.3,60.4 1173.0,60.5 1175.7,60.6C1178.3,60.7 1181.0,60.8 1183.7,60.9C1186.3,61.0 1189.0,61.1 1191.7,61.2C1194.3,61.4 1197.0,61.5 1199.7,61.6C1202.3,61.7 1205.0,61.8 1207.7,61.9C1210.3,62.0 1213.0,62.1 1215.7,62.2C1218.3,62.3 1221.0,62.5 1223.6,62.6C1226.3,62.7 1229.0,62.8 1231.6,62.9C1234.3,63.1 1237.0,63.2 1239.6,63.3C1242.3,63.4 1245.0,63.5 1247.6,63.7C1250.3,63.8 1252.9,63.9 1255.6,64.0C1258.3,64.2 1260.9,64.3 1263.6,64.4C1266.3,64.5 1268.9,64.7 1271.6,64.8C1274.3,64.9 1276.9,65.1 1279.6,65.2C1282.2,65.3 1284.9,65.5 1287.6,65.6C1290.2,65.7 1292.9,65.9 1295.5,66.0C1298.2,66.2 1300.9,66.3 1303.5,66.5C1306.2,66.7 1308.8,66.9 1311.5,67.1C1314.1,67.3 1316.8,67.5 1319.4,67.8C1322.1,68.0 1324.7,68.3 1327.4,68.7C1330.0,69.0 1332.6,69.3 1335.3,69.7C1337.9,70.1 1340.5,70.6 1343.1,71.0C1345.7,71.5 1348.3,72.1 1350.9,72.6C1353.6,73.2 1356.2,73.8 1358.7,74.4C1361.3,75.1 1363.9,75.7 1366.5,76.4C1369.1,77.1 1371.7,77.8 1374.3,78.6C1376.8,79.3 1379.4,80.0 1382.0,80.8C1384.6,81.5 1387.1,82.3 1389.7,83.1C1392.3,83.8 1394.9,84.6 1397.4,85.4C1400.0,86.1 1402.6,86.9 1405.1,87.6C1407.7,88.4 1410.2,89.1 1412.8,89.8C1415.4,90.5 1418.0,91.2 1420.5,91.8C1423.1,92.4 1425.7,93.1 1428.3,93.6C1430.8,94.2 1433.4,94.7 1436.0,95.1C1438.6,95.6 1442.5,96.1 1443.8,96.3" stroke-linejoin="round" fill="none" stroke="#00b050" stroke-width="10.7" stroke-dasharray="39 19.63 39 19.63 10 19.63" stroke-dashoffset="12.899999999999977"/>
<circle cx="358.7" cy="1007" r="5.4" fill="#00b050"/>
<rect x="175" y="37.8" width="1262" height="2.4" fill="#333"/>
<rect x="175" y="40.2" width="1262" height="2.5" fill="#555"/>
<rect x="175" y="37.8" width="3.1" height="1013" fill="#000"/>
<rect x="178.1" y="42" width="1.6" height="1006" fill="#d8d8d8"/>
<rect x="1434" y="37.8" width="3" height="1013" fill="#000"/>
<rect x="1437" y="37.8" width="1.8" height="1014" fill="#aaa"/>
<rect x="1432.4" y="42" width="1.6" height="1005" fill="#ddd"/>
<rect x="175" y="1047.2" width="1263" height="3.2" fill="#000"/>
<rect x="175" y="1050.4" width="1263.8" height="1.5" fill="#999"/>
<rect x="178" y="202.2" width="19.8" height="4.6" fill="#1a1a1a"/>
<rect x="178" y="374.2" width="19.8" height="4.6" fill="#1a1a1a"/>
<rect x="178" y="544.7" width="19.8" height="4.6" fill="#1a1a1a"/>
<rect x="178" y="709.0" width="19.8" height="4.6" fill="#1a1a1a"/>
<rect x="178" y="878.0" width="19.8" height="4.6" fill="#1a1a1a"/>
<rect x="178" y="120.7" width="9.6" height="4.6" fill="#1a1a1a"/>
<rect x="178" y="285.6" width="9.6" height="4.6" fill="#1a1a1a"/>
<rect x="178" y="456.7" width="9.6" height="4.6" fill="#1a1a1a"/>
<rect x="178" y="627.0" width="9.6" height="4.6" fill="#1a1a1a"/>
<rect x="178" y="791.5" width="9.6" height="4.6" fill="#1a1a1a"/>
<rect x="178" y="962.7" width="9.6" height="4.6" fill="#1a1a1a"/>
<rect x="425.8" y="1026.8" width="4.6" height="21" fill="#1a1a1a"/>
<rect x="678.1" y="1026.8" width="4.6" height="21" fill="#1a1a1a"/>
<rect x="929.5" y="1026.8" width="4.6" height="21" fill="#1a1a1a"/>
<rect x="1181.5" y="1026.8" width="4.6" height="21" fill="#1a1a1a"/>
<rect x="300.3" y="1037" width="4" height="11" fill="#1a1a1a"/>
<rect x="552.2" y="1037" width="4" height="11" fill="#1a1a1a"/>
<rect x="804.1" y="1037" width="4" height="11" fill="#1a1a1a"/>
<rect x="1055.8" y="1037" width="4" height="11" fill="#1a1a1a"/>
<rect x="1307.8" y="1037" width="4" height="11" fill="#1a1a1a"/>
<text x="133.2" y="56.3" font-family="Liberation Serif, serif" font-size="56" fill="#000" stroke="#fff" stroke-width="0.7">0</text>
<text x="116.2" y="224.8" font-family="Liberation Serif, serif" font-size="56" fill="#000" stroke="#fff" stroke-width="0.7">-5</text>
<text x="93" y="393.1" font-family="Liberation Serif, serif" font-size="56" fill="#000" stroke="#fff" stroke-width="0.7">-10</text>
<text x="92" y="560.7" font-family="Liberation Serif, serif" font-size="56" fill="#000" stroke="#fff" stroke-width="0.7">-15</text>
<text x="93" y="728.7" font-family="Liberation Serif, serif" font-size="56" fill="#000" stroke="#fff" stroke-width="0.7">-20</text>
<text x="92" y="896" font-family="Liberation Serif, serif" font-size="56" fill="#000" stroke="#fff" stroke-width="0.7">-25</text>
<text x="93.5" y="1065.2" font-family="Liberation Serif, serif" font-size="56" fill="#000" stroke="#fff" stroke-width="0.7">-30</text>
<text x="170" y="1108" font-family="Liberation Serif, serif" font-size="56" fill="#000" stroke="#fff" stroke-width="0.7">1</text>
<text x="420" y="1108" font-family="Liberation Serif, serif" font-size="56" fill="#000" stroke="#fff" stroke-width="0.7">3</text>
<text x="673.2" y="1108" font-family="Liberation Serif, serif" font-size="56" fill="#000" stroke="#fff" stroke-width="0.7">5</text>
<text x="924.4" y="1108" font-family="Liberation Serif, serif" font-size="56" fill="#000" stroke="#fff" stroke-width="0.7">7</text>
<text x="1177" y="1108" font-family="Liberation Serif, serif" font-size="56" fill="#000" stroke="#fff" stroke-width="0.7">9</text>
<text x="1417.5" y="1108" font-family="Liberation Serif, serif" font-size="56" fill="#000" stroke="#fff" stroke-width="0.7">11</text>
<text x="609" y="1163.3" font-family="Liberation Serif, serif" font-size="56" fill="#000" stroke="#fff" stroke-width="0.7" textLength="394" lengthAdjust="spacingAndGlyphs">Frequency (GHz)</text>
<text transform="translate(54.6,637.3) rotate(-90)" font-family="Liberation Serif, serif" font-size="56" fill="#000" stroke="#fff" stroke-width="0.7">S</text>
<text transform="translate(63.6,606.6) rotate(-90)" font-family="Liberation Serif, serif" font-size="39" fill="#222">11</text>
<text transform="translate(54.6,542.5) rotate(-90)" font-family="Liberation Serif, serif" font-size="56" fill="#000" stroke="#fff" stroke-width="0.7">(dB)</text>
<rect x="16" y="639.8" width="50.3" height="5" fill="#8a8a8a"/>
<rect x="16" y="561.3" width="50.3" height="4.8" fill="#949494"/>
<path d="M1098.3,941 H1229" fill="none" stroke="#ff00ff" stroke-width="10.5" stroke-dasharray="20 9.4"/>
<path d="M1098.3,1008 H1227" fill="none" stroke="#00b050" stroke-width="11.5" stroke-dasharray="40 18.6 40 19.4 10.5 50"/>
<text x="1268" y="958.4" font-family="Liberation Serif, serif" font-size="56" fill="#000" stroke="#fff" stroke-width="0.7">Step-3</text>
<text x="1268.3" y="1021" font-family="Liberation Serif, serif" font-size="56" fill="#000" stroke="#fff" stroke-width="0.7">Step-4</text>
</svg>
</body></html>
